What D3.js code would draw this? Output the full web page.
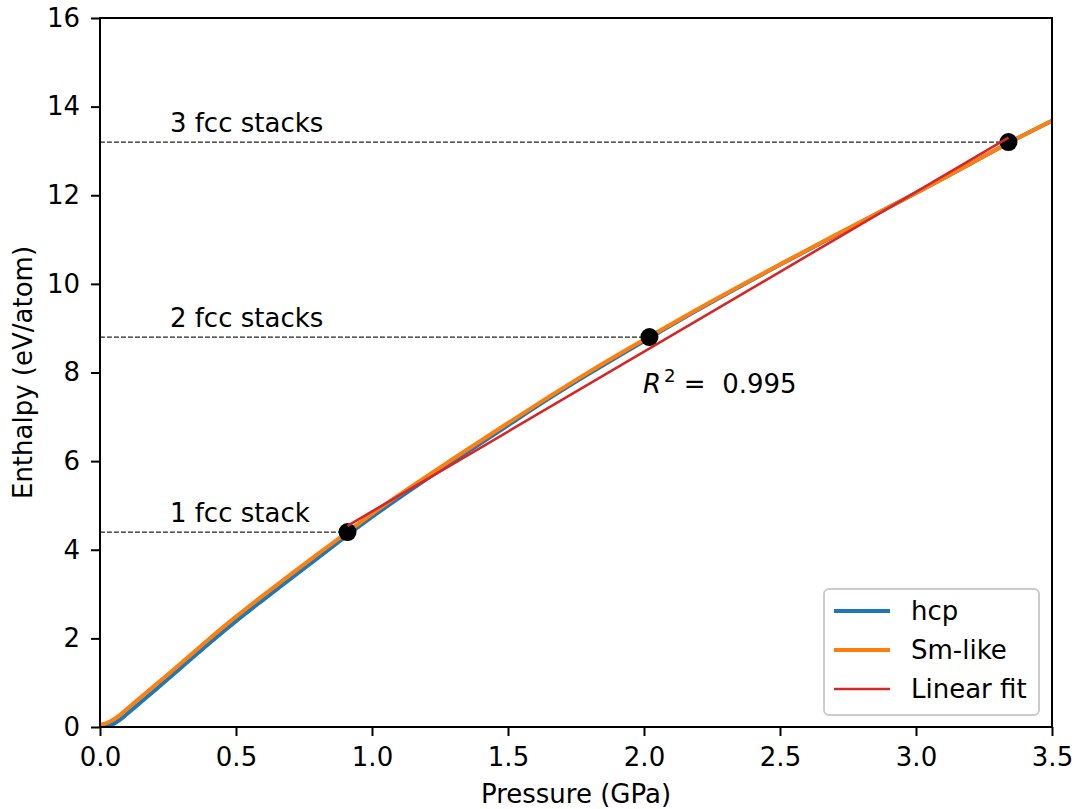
<!DOCTYPE html>
<html>
<head>
<meta charset="utf-8">
<script src="https://cdn.jsdelivr.net/npm/d3@7"></script>
<style>
  html, body { margin: 0; padding: 0; background: #fff; }
  svg text { font-family: "DejaVu Sans", sans-serif; }
</style>
</head>
<body>
<svg id="chart" width="1078" height="809"></svg>
<script>
// ---- data ----
const smLikeP = [0, 0.025, 0.05, 0.075, 0.1, 0.15, 0.2, 0.3, 0.4, 0.5, 0.6, 0.7, 0.8, 0.91, 1.0, 1.1, 1.3, 1.5, 1.65, 1.8, 2.02, 2.2, 2.5, 2.7, 2.9, 3.0, 3.2, 3.34, 3.5];
const smLikeH = [0.05, 0.09, 0.17, 0.28, 0.41, 0.67, 0.93, 1.45, 1.98, 2.49, 2.97, 3.44, 3.9, 4.4, 4.81, 5.24, 6.06, 6.86, 7.45, 8.02, 8.81, 9.44, 10.44, 11.09, 11.73, 12.05, 12.71, 13.18, 13.68];
const hcpP = [0, 0.025, 0.05, 0.075, 0.1, 0.15, 0.2, 0.3, 0.4, 0.5, 0.6, 0.7, 0.8, 0.91, 1.0, 1.1, 1.3, 1.5, 1.65, 1.8, 2.02, 2.2, 2.5, 2.7, 2.9, 3.0, 3.2, 3.34, 3.5];
const hcpH = [0.0, 0.02, 0.07, 0.17, 0.3, 0.56, 0.82, 1.35, 1.88, 2.39, 2.87, 3.34, 3.81, 4.33, 4.74, 5.17, 6.0, 6.81, 7.41, 7.98, 8.78, 9.42, 10.43, 11.08, 11.73, 12.05, 12.71, 13.18, 13.68];
const fitP = [0.91, 3.34];
const fitH = [4.54, 13.3];
const stackP = [0.91, 2.02, 3.34];
const stackH = [4.4, 8.8, 13.2];
const stackLabels = ["1 fcc stack", "2 fcc stacks", "3 fcc stacks"];
const xTicks = [0.0, 0.5, 1.0, 1.5, 2.0, 2.5, 3.0, 3.5];
const yTicks = [0, 2, 4, 6, 8, 10, 12, 14, 16];
const r2Value = "0.995";
const seriesNames = ["hcp", "Sm-like", "Linear fit"];
const seriesColors = ["#1f77b4", "#ff7f0e", "#d62728"];

// ---- layout ----
const svg = d3.select("#chart");
const L = 100, R = 1052, T = 18, B = 727;
const x = d3.scaleLinear().domain([0, 3.5]).range([L, R]);
const y = d3.scaleLinear().domain([0, 16]).range([B, T]);
const FS = 26;

svg.append("defs").append("clipPath").attr("id", "clip")
  .append("rect").attr("x", L).attr("y", T).attr("width", R - L).attr("height", B - T);

const plot = svg.append("g").attr("clip-path", "url(#clip)");

const line = d3.line().x(d => x(d[0])).y(d => y(d[1])).curve(d3.curveMonotoneX);

const hcpData = hcpP.map((p, i) => [p, hcpH[i]]);
const smData = smLikeP.map((p, i) => [p, smLikeH[i]]);
const fitData = fitP.map((p, i) => [p, fitH[i]]);

plot.append("path").datum(hcpData).attr("d", line)
  .attr("fill", "none").attr("stroke", seriesColors[0]).attr("stroke-width", 4);
plot.append("path").datum(smData).attr("d", line)
  .attr("fill", "none").attr("stroke", seriesColors[1]).attr("stroke-width", 4);

// dashed guide lines
stackP.forEach((p, i) => {
  plot.append("line")
    .attr("x1", x(0)).attr("x2", x(p))
    .attr("y1", y(stackH[i])).attr("y2", y(stackH[i]))
    .attr("stroke", "#222").attr("stroke-width", 1.3)
    .attr("stroke-dasharray", "4.9,2.1");
});

// points
plot.selectAll("circle.pt").data(stackP).enter().append("circle")
  .attr("cx", d => x(d)).attr("cy", (d, i) => y(stackH[i])).attr("r", 9)
  .attr("fill", "#000");

// linear fit
plot.append("path").datum(fitData).attr("d", d3.line().x(d => x(d[0])).y(d => y(d[1])))
  .attr("fill", "none").attr("stroke", seriesColors[2]).attr("stroke-width", 2.6);

// labels
stackLabels.forEach((t, i) => {
  svg.append("text").attr("x", x(0.257)).attr("y", y(stackH[i] + 0.23))
    .attr("font-size", FS).attr("fill", "#000").text(t);
});

const r2 = svg.append("text").attr("x", x(1.996)).attr("y", y(7.54)).attr("font-size", FS).attr("fill", "#000");
r2.append("tspan").attr("font-style", "italic").text("R");
r2.append("tspan").attr("font-size", FS * 0.7).attr("dy", -11).attr("dx", 3).text("2");
r2.append("tspan").attr("dy", 11).attr("xml:space", "preserve").text(" =  " + r2Value);

// axes
const xAxis = d3.axisBottom(x).tickValues(xTicks).tickFormat(d3.format(".1f")).tickSize(9).tickPadding(12);
const yAxis = d3.axisLeft(y).tickValues(yTicks).tickFormat(d3.format("d")).tickSize(9).tickPadding(11);

const gx = svg.append("g").attr("transform", `translate(0,${B})`).call(xAxis);
const gy = svg.append("g").attr("transform", `translate(${L},0)`).call(yAxis);
[gx, gy].forEach(g => {
  g.select(".domain").remove();
  g.selectAll(".tick line").attr("stroke", "#000").attr("stroke-width", 2);
  g.selectAll(".tick text").attr("font-size", FS).attr("fill", "#000").attr("font-family", "DejaVu Sans, sans-serif");
});

// spines
svg.append("rect").attr("x", L).attr("y", T).attr("width", R - L).attr("height", B - T)
  .attr("fill", "none").attr("stroke", "#000").attr("stroke-width", 2);

// axis labels
svg.append("text").attr("x", (L + R) / 2).attr("y", 803).attr("text-anchor", "middle")
  .attr("font-size", FS).attr("fill", "#000").text("Pressure (GPa)");
svg.append("text").attr("transform", `translate(32,${(T + B) / 2}) rotate(-90)`).attr("text-anchor", "middle")
  .attr("font-size", FS).attr("fill", "#000").text("Enthalpy (eV/atom)");

// legend
const lg = svg.append("g");
lg.append("rect").attr("x", 824).attr("y", 589).attr("width", 215).attr("height", 126)
  .attr("rx", 5).attr("ry", 5).attr("fill", "#fff").attr("fill-opacity", 0.8)
  .attr("stroke", "#cccccc").attr("stroke-width", 2);
const rowY = [611, 650, 689];
const widths = [4, 4, 2.6];
seriesNames.forEach((n, i) => {
  lg.append("line").attr("x1", 834).attr("x2", 890).attr("y1", rowY[i]).attr("y2", rowY[i])
    .attr("stroke", seriesColors[i]).attr("stroke-width", widths[i]);
  lg.append("text").attr("x", 911).attr("y", rowY[i]).attr("dy", "0.35em")
    .attr("font-size", FS).attr("fill", "#000").text(n);
});
</script>
</body>
</html>
